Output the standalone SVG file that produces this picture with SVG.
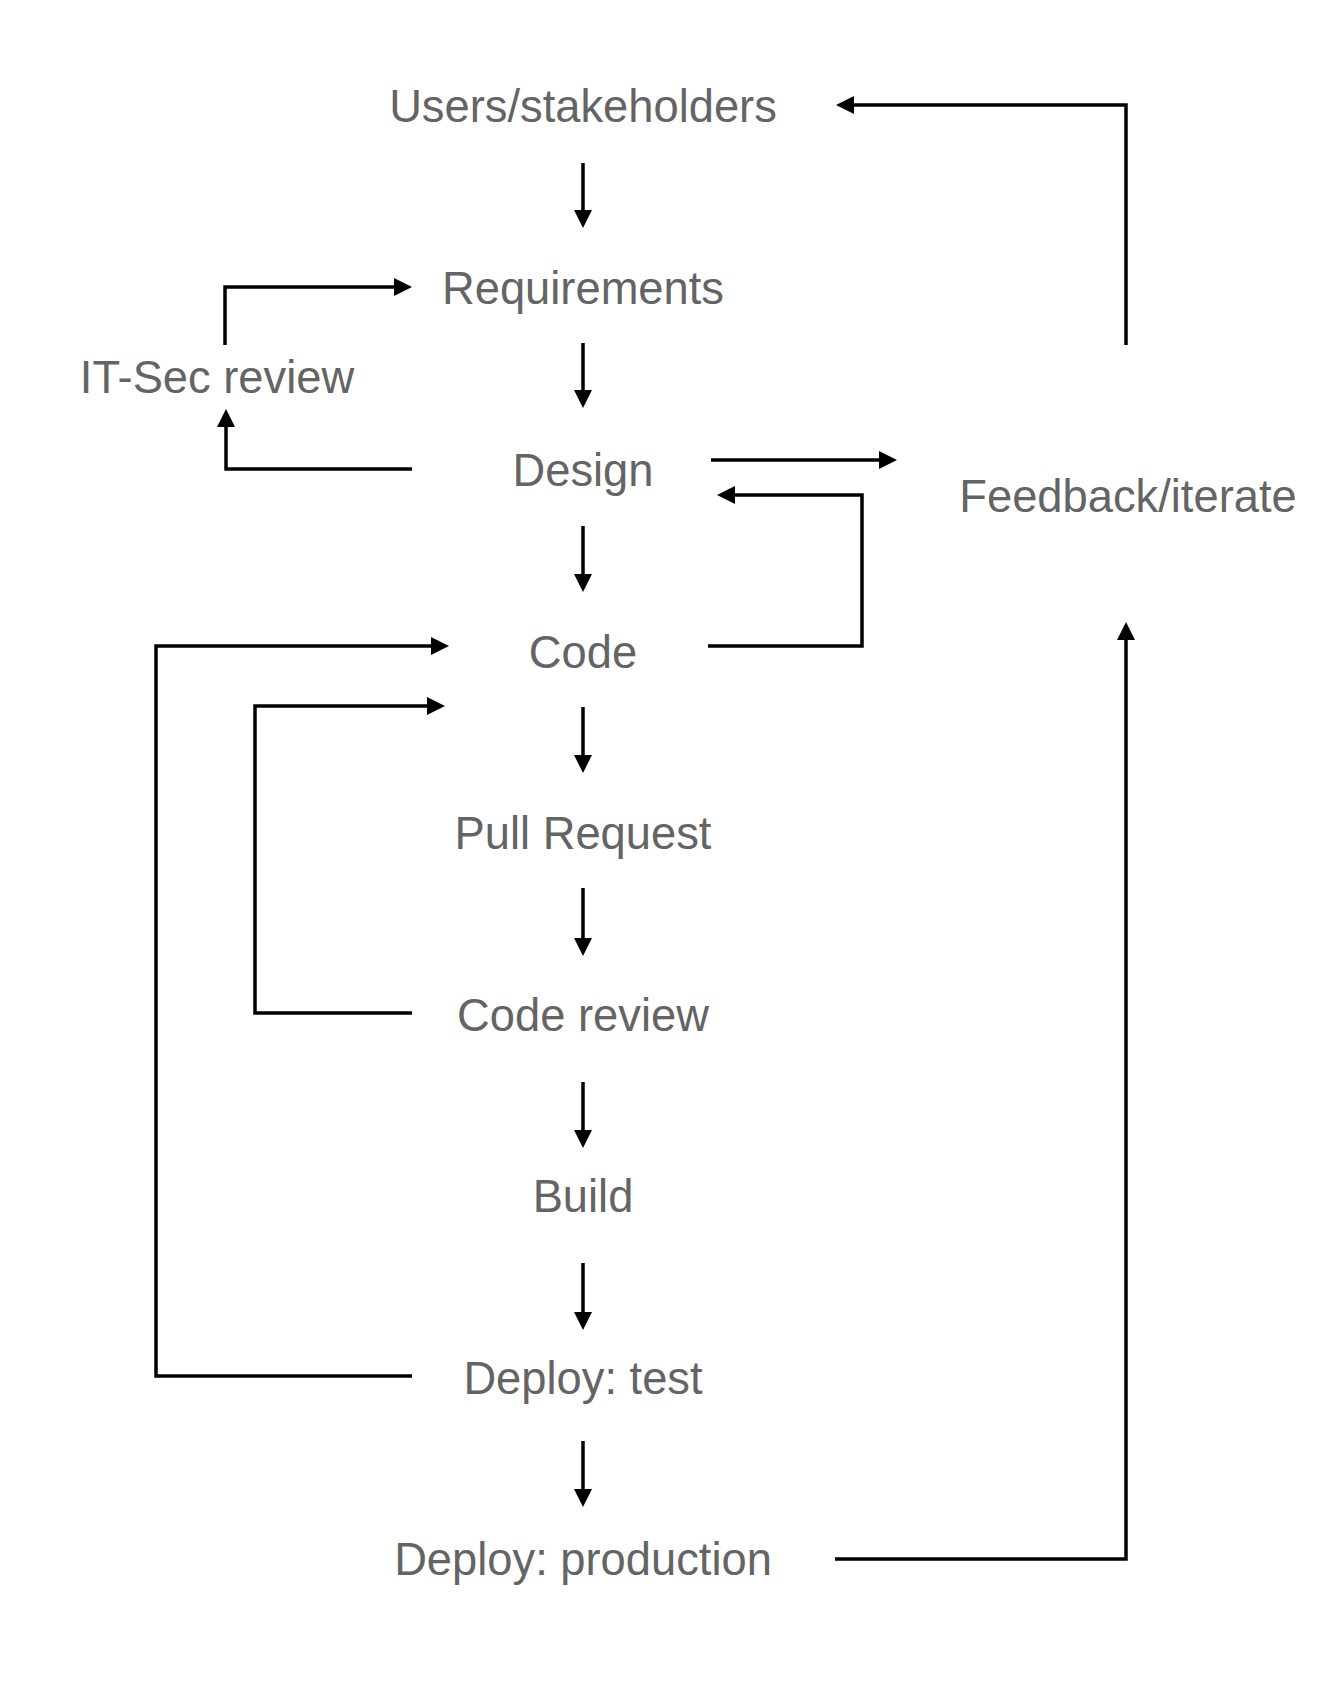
<svg xmlns="http://www.w3.org/2000/svg" width="1321" height="1704" viewBox="0 0 1321 1704">
<style>
.t{font-family:"Liberation Sans",Arial,Helvetica,sans-serif;font-size:45.3px;fill:#646464;text-anchor:middle}
.c{fill:none;stroke:#000;stroke-width:3.5;stroke-linejoin:miter;marker-end:url(#ah)}
</style>
<defs>
<marker id="ah" markerUnits="userSpaceOnUse" markerWidth="18" markerHeight="18" refX="3" refY="9" orient="auto">
<path d="M0,0 L18,9 L0,18 z" fill="#000"/>
</marker>
</defs>
<rect width="1321" height="1704" fill="#fff"/>
<g id="nodes">
<g id="n-users"><text class="t" x="583" y="122">Users/stakeholders</text></g>
<g id="n-requirements"><text class="t" x="583" y="304">Requirements</text></g>
<g id="n-itsec"><text class="t" x="217" y="393">IT-Sec review</text></g>
<g id="n-design"><text class="t" x="583" y="486">Design</text></g>
<g id="n-feedback"><text class="t" x="1128" y="512">Feedback/iterate</text></g>
<g id="n-code"><text class="t" x="583" y="667.5">Code</text></g>
<g id="n-pr"><text class="t" x="583" y="849">Pull Request</text></g>
<g id="n-review"><text class="t" x="583" y="1030.5">Code review</text></g>
<g id="n-build"><text class="t" x="583" y="1212">Build</text></g>
<g id="n-test"><text class="t" x="583" y="1393.5">Deploy: test</text></g>
<g id="n-prod"><text class="t" x="583" y="1575">Deploy: production</text></g>
</g>
<g id="connectors">
<path class="c" d="M583,163 V213"/>
<path class="c" d="M583,343 V393"/>
<path class="c" d="M583,526 V577"/>
<path class="c" d="M583,707 V758"/>
<path class="c" d="M583,888 V941"/>
<path class="c" d="M583,1082 V1133"/>
<path class="c" d="M583,1263 V1315"/>
<path class="c" d="M583,1441 V1492"/>
<path class="c" d="M1126,345 V105 H851"/>
<path class="c" d="M225,345 V287 H397"/>
<path class="c" d="M412,469 H226 V424"/>
<path class="c" d="M711,460 H882"/>
<path class="c" d="M708,646 H862 V495 H732"/>
<path class="c" d="M412,1376 H156 V646 H434"/>
<path class="c" d="M412,1013 H255 V706 H430"/>
<path class="c" d="M835,1559 H1126 V637"/>
</g>
</svg>
